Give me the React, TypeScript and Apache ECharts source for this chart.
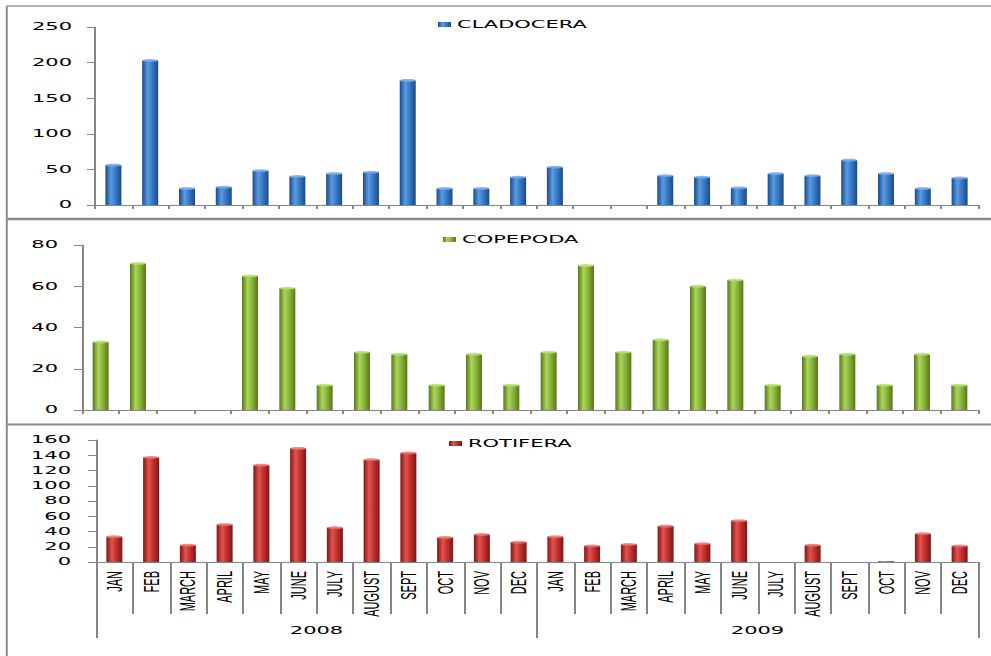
import React, { useEffect, useRef } from "react";
import * as echarts from "echarts";

const months = ["JAN", "FEB", "MARCH", "APRIL", "MAY", "JUNE", "JULY", "AUGUST", "SEPT", "OCT", "NOV", "DEC"];
const categories = [...months, ...months];
const years = ["2008", "2009"];

const cladocera = [56, 203, 23, 25, 48, 40, 44, 46, 175, 23, 23, 39, 53, 0, 0, 41, 39, 24, 44, 41, 63, 44, 23, 38];
const copepoda = [33, 71, 0, 0, 65, 59, 12, 28, 27, 12, 27, 12, 28, 70, 28, 34, 60, 63, 12, 26, 27, 12, 27, 12];
const rotifera = [33, 137, 22, 49, 127, 149, 45, 134, 143, 32, 36, 26, 33, 21, 23, 47, 24, 54, 0, 22, 0, 1, 37, 21];

const S = 2.0; // horizontal stretch of the original picture
const W = 991 / S;

const grad = (edge: string, mid: string, hi: string) =>
  new echarts.graphic.LinearGradient(0, 0, 1, 0, [
    { offset: 0, color: edge },
    { offset: 0.35, color: hi },
    { offset: 0.6, color: mid },
    { offset: 1, color: edge },
  ]);

export default function App() {
  const ref = useRef<HTMLDivElement>(null);
  useEffect(() => {
    if (!ref.current) return;
    const chart = echarts.init(ref.current, undefined, { renderer: "svg" });
    const gray = "#868686";
    const yFont = { fontFamily: "DejaVu Sans", fontSize: 10.5, color: "#000" };
    const grids = [
      { left: 95 / S, right: 14 / S, top: 27, height: 178 },
      { left: 82 / S, right: 14 / S, top: 245, height: 165 },
      { left: 96 / S, right: 14 / S, top: 440, height: 122 },
    ];
    const smallX = (gi: number) => ({
      type: "category",
      gridIndex: gi,
      data: categories,
      position: "bottom",
      axisLine: { show: true, lineStyle: { color: gray, width: 1 } },
      axisTick: { show: true, length: 4, interval: 0, lineStyle: { color: gray } },
      axisLabel: { show: false },
    });
    const yAx = (gi: number, max: number, interval: number, margin: number) => ({
      type: "value",
      gridIndex: gi,
      min: 0,
      max,
      interval,
      splitLine: { show: false },
      axisLine: { show: true, lineStyle: { color: gray, width: 1 } },
      axisTick: { show: true, length: 4, lineStyle: { color: gray } },
      axisLabel: { ...yFont, margin },
    });
    const bar = (name: string, data: number[], idx: number, c: any) => ({
      name,
      type: "bar",
      xAxisIndex: idx,
      yAxisIndex: idx,
      data,
      barWidth: 8,
      itemStyle: { color: c },
    });
    const cap = (data: number[], idx: number, color: string) => ({
      name: "cap" + idx,
      type: "scatter",
      xAxisIndex: idx,
      yAxisIndex: idx,
      symbol: "circle",
      symbolSize: [8, 3],
      data: data.map((v) => (v > 1 ? v : "-")),
      itemStyle: { color },
      silent: true,
      z: 5,
    });
    const legend = (name: string, left: number, top: number) => ({
      data: [name],
      left: left / S,
      top,
      padding: 0,
      itemWidth: 6.5,
      itemHeight: 5,
      icon: "rect",
      textStyle: { fontFamily: "DejaVu Sans", fontSize: 10.5, color: "#000", padding: [0, 0, 0, -2] },
    });
    const blue = grad("#1b4a88", "#3a7cc9", "#5b9be0");
    const green = grad("#567819", "#8bb83a", "#abd55c");
    const red = grad("#7f1616", "#c8322f", "#e2544f");
    chart.setOption({
      animation: false,
      backgroundColor: "#fff",
      grid: grids,
      legend: [
        legend("CLADOCERA", 438, 19),
        legend("COPEPODA", 443, 234),
        legend("ROTIFERA", 449, 438),
      ],
      xAxis: [
        smallX(0),
        smallX(1),
        {
          type: "category",
          gridIndex: 2,
          data: categories,
          position: "bottom",
          axisLine: { show: true, lineStyle: { color: gray, width: 1 } },
          axisTick: { show: true, length: 52, interval: 0, lineStyle: { color: gray } },
          axisLabel: {
            interval: 0,
            rotate: 90,
            margin: 9,
            fontFamily: "Liberation Sans",
            fontSize: 11,
            color: "#000",
          },
        },
        {
          type: "category",
          gridIndex: 2,
          data: years,
          position: "bottom",
          offset: 0,
          axisLine: { show: false },
          axisTick: { show: true, length: 76, interval: 0, lineStyle: { color: gray } },
          axisLabel: { fontFamily: "DejaVu Sans", fontSize: 10.5, color: "#000", margin: 63 },
        },
      ],
      yAxis: [yAx(0, 250, 50, 11.5), yAx(1, 80, 20, 12), yAx(2, 160, 20, 12.5)],
      series: [
        bar("CLADOCERA", cladocera, 0, blue),
        bar("COPEPODA", copepoda, 1, green),
        bar("ROTIFERA", rotifera, 2, red),
        cap(cladocera, 0, "#6fa6e6"),
        cap(copepoda, 1, "#b8dc6e"),
        cap(rotifera, 2, "#e8706a"),
      ],
      graphic: [
        { type: "line", shape: { x1: 3.4, y1: 6, x2: 3.4, y2: 656 }, style: { stroke: "#8c8c8c", lineWidth: 1 } },
        { type: "line", shape: { x1: 3.4, y1: 6, x2: W, y2: 6 }, style: { stroke: "#9a9a9a", lineWidth: 1.5 } },
        { type: "line", shape: { x1: 3.4, y1: 219, x2: W, y2: 219 }, style: { stroke: "#8c8c8c", lineWidth: 2.5 } },
        { type: "line", shape: { x1: 3.4, y1: 424.5, x2: W, y2: 424.5 }, style: { stroke: "#8c8c8c", lineWidth: 2 } },
      ],
    });
    return () => chart.dispose();
  }, []);
  return (
    <div
      ref={ref}
      style={{
        position: "fixed",
        left: 0,
        top: 0,
        width: W + "px",
        height: "656px",
        transform: `scaleX(${S})`,
        transformOrigin: "0 0",
      }}
    />
  );
}
